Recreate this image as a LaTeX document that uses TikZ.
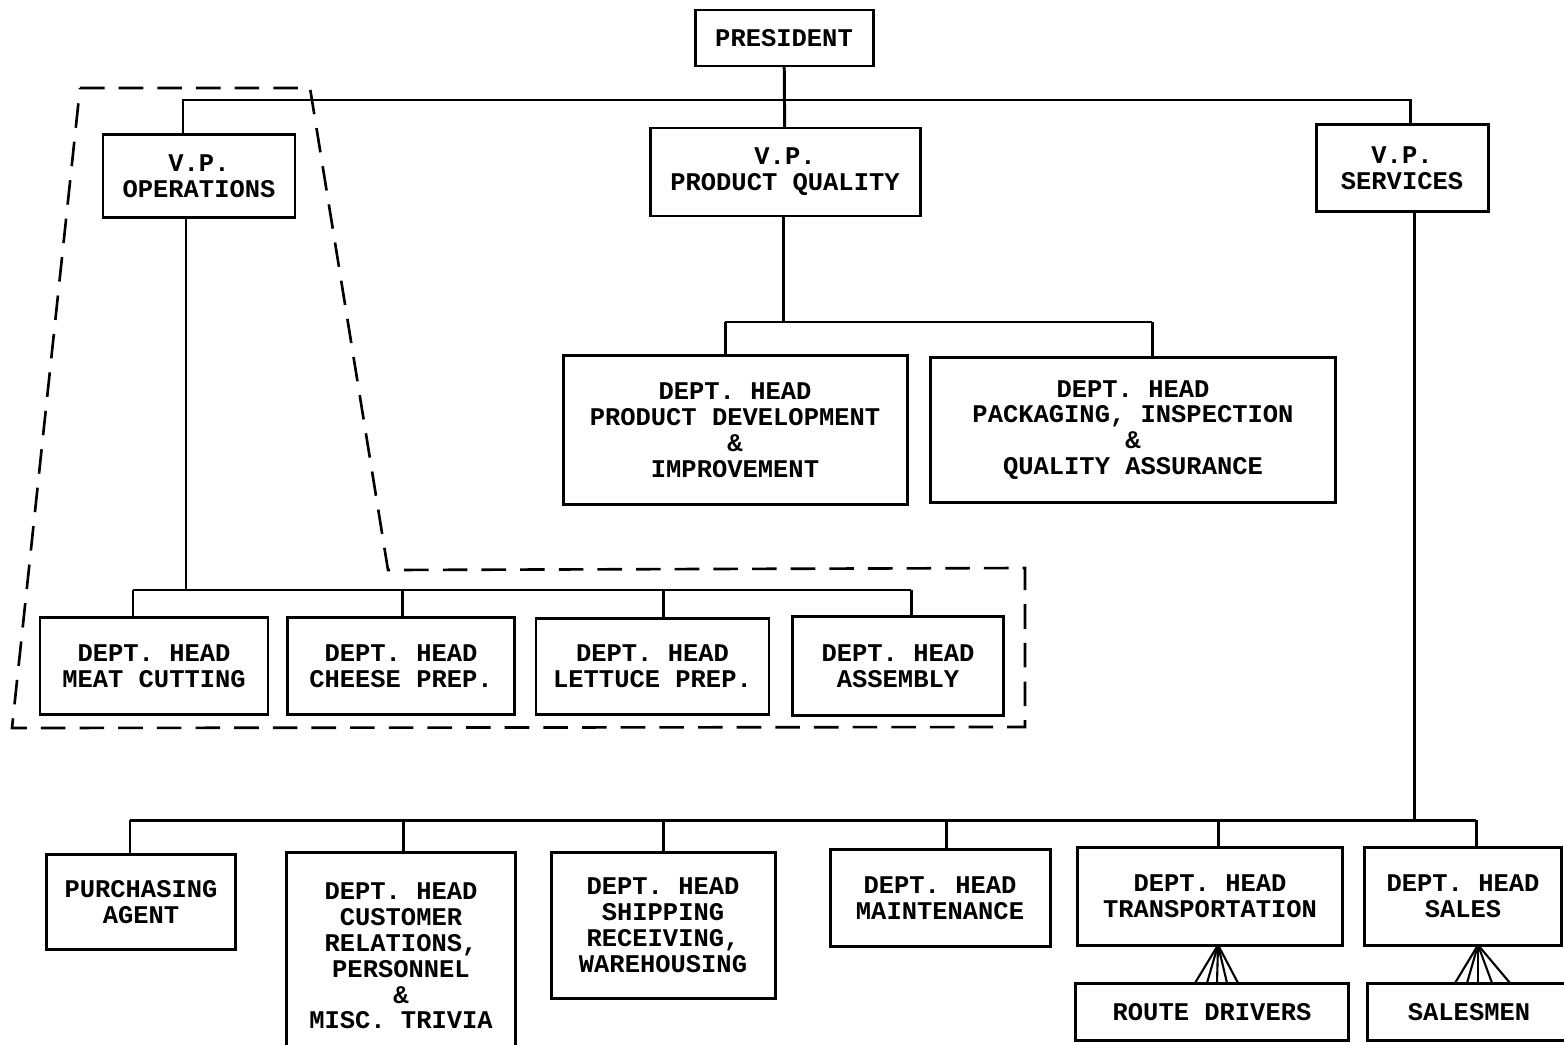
\documentclass[tikz,border=0pt]{standalone}
\usepackage{fontspec}
\setmonofont{Liberation Mono}
\usetikzlibrary{positioning}
\tikzset{%
  box/.style = {rectangle,draw,line width=1.7pt,outer sep=0pt,align=center,
        font=\ttfamily\bfseries\fontsize{14.5}{14.7}\selectfont},
  sz/.style 2 args = {minimum width=#1*0.02cm,
        minimum height=#2*0.02cm},
  link/.style = {line width=1.7pt},
  fan/.style = {line width=1.2pt},
  outline/.style = {line width=1.5pt,dash pattern=on 14pt off 8pt}
}
\begin{document}
\begin{tikzpicture}[x=0.02cm,y=-0.02cm,node distance=0.47cm and 0.47cm]
    \useasboundingbox (0,0) rectangle (1564,1044);
    \node[box,sz={178}{56}] (pres) at (784,38) {PRESIDENT};
    \node[box,sz={192}{83}] (vpops) at (199,176) {V.P.\\OPERATIONS};
    \node[box,sz={270}{88}] (vppq) at (785,172) {V.P.\\PRODUCT QUALITY};
    \node[box,sz={172}{87}] (vpserv) at (1402,168) {V.P.\\SERVICES};

    \node[box,sz={344}{149}] (pd) at (735,430) {DEPT. HEAD\\PRODUCT DEVELOPMENT\\\&\\IMPROVEMENT};
    \node[box,sz={405}{145}] (piqa) [right=0.47cm of pd] {DEPT. HEAD\\PACKAGING, INSPECTION\\\&\\QUALITY ASSURANCE};

    \node[box,sz={228}{97}] (meat) at (154,666) {DEPT. HEAD\\MEAT CUTTING};
    \node[box,sz={227}{97}] (cheese) [right=0.39cm of meat] {DEPT. HEAD\\CHEESE PREP.};
    \node[box,sz={233}{96}] (lettuce) [right=0.43cm of cheese] {DEPT. HEAD\\LETTUCE PREP.};
    \node[box,sz={211}{99}] (assembly) [right=of lettuce] {DEPT. HEAD\\ASSEMBLY};

    \node[box,sz={189}{95}] (purch) at (141,902) {PURCHASING\\AGENT};
    \node[box,sz={229}{208}] (cust) at (401,956) {DEPT. HEAD\\CUSTOMER\\RELATIONS,\\PERSONNEL\\\&\\MISC. TRIVIA};
    \node[box,sz={224}{146}] (ship) at (663,925) {DEPT. HEAD\\SHIPPING\\RECEIVING,\\WAREHOUSING};
    \node[box,sz={220}{97}] (maint) at (940,898) {DEPT. HEAD\\MAINTENANCE};
    \node[box,sz={265}{98}] (trans) at (1210,896) {DEPT. HEAD\\TRANSPORTATION};
    \node[box,sz={197}{98}] (sales) at (1463,896) {DEPT. HEAD\\SALES};
    \node[box,sz={273}{57}] (route) at (1212,1012) {ROUTE DRIVERS};
    \node[box,sz={203}{57}] (salesmen) at (1469,1012) {SALESMEN};

    % president and vice presidents
    \draw[link] (pres) -- (vppq);
    \draw[link] (vpops.north) -| (183,100) -- (1410,100) |- (vpserv.north);

    % operations
    \draw[link] (vpops.south) -| (186,590);
    \draw[link] (133,590) -- (911,590);
    \foreach \x/\n in {133/meat,402/cheese,663/lettuce,911/assembly}
        \draw[link] (\x,590) |- (\n.north);

    % product quality
    \draw[link] (vppq.south) -| (783,322);
    \draw[link] (725,322) -- (1152,322);
    \draw[link] (725,322) |- (pd.north);
    \draw[link] (1152,322) |- (piqa.north);

    % services
    \draw[link] (vpserv.south) -| (1414,820);
    \draw[link] (130,820) -- (1476,820);
    \foreach \x/\n in {130/purch,403/cust,663/ship,946/maint,1218/trans,1476/sales}
        \draw[link] (\x,820) |- (\n.north);

    \coordinate (rjoin) at (1218,945);
    \coordinate (sjoin) at (1478,945);
    \foreach \x in {1195,1207,1217,1227,1238}
        \draw[fan] (rjoin) -- (\x,983);
    \foreach \x in {1455,1467,1478,1492,1510}
        \draw[fan] (sjoin) -- (\x,983);

    % dashed grouping
    \draw[outline] (80,88) -- (310,88) -- (388,570) -- (1025,568)
        -- (1025,727) -- (12,728) -- cycle;
\end{tikzpicture}
\end{document}
